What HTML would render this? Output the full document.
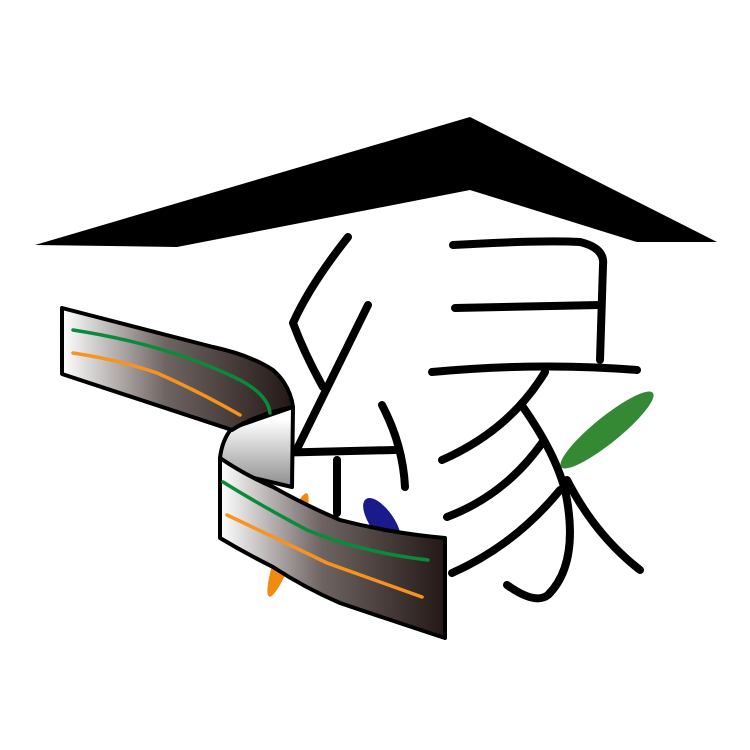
<!DOCTYPE html>
<html><head><style>html,body{margin:0;padding:0;background:#fff}svg{display:block}</style></head>
<body>
<svg width="750" height="750" viewBox="0 0 750 750" xmlns="http://www.w3.org/2000/svg">
<defs>
<linearGradient id="g1" x1="62" y1="0" x2="293" y2="0" gradientUnits="userSpaceOnUse">
<stop offset="0" stop-color="#fff"/><stop offset="0.45" stop-color="#6e6462"/><stop offset="1" stop-color="#231815"/></linearGradient>
<linearGradient id="g2" x1="220" y1="0" x2="445" y2="0" gradientUnits="userSpaceOnUse">
<stop offset="0" stop-color="#fff"/><stop offset="0.45" stop-color="#6e6462"/><stop offset="1" stop-color="#231815"/></linearGradient>
<linearGradient id="g3" x1="0" y1="420" x2="0" y2="490" gradientUnits="userSpaceOnUse">
<stop offset="0" stop-color="#fff"/><stop offset="1" stop-color="#888"/></linearGradient>
</defs>
<path d="M35,245 L470,117 L717,242 L637,242 L470,190 L177,247 Z" fill="#000"/>
<g fill="none" stroke="#000" stroke-width="8" stroke-linecap="round" stroke-linejoin="round">
<path d="M348,237 Q310,285 293,323 Q305,355 323,387"/>
<path d="M368,305 L298,447"/>
<path d="M268,453 L395,450"/>
<path d="M382,405 Q403,445 405,487"/>
<path d="M337,460 L337,513"/>
<path d="M453,245 Q540,240 580,242 Q605,248 603,265 L600,360"/>
<path d="M455,308 L600,305"/>
<path d="M432,372 Q540,362 637,370"/>
<path d="M545,372 Q510,430 442,460"/>
<path d="M523,407 Q560,460 567,500 Q578,565 548,595 Q535,605 507,585"/>
<path d="M542,443 Q505,495 447,517"/>
<path d="M560,490 Q515,545 452,573"/>
<path d="M567,480 Q595,535 640,570"/>
</g>
<ellipse cx="607" cy="430" rx="59" ry="13" transform="rotate(-39 607 430)" fill="#368934"/>
<ellipse cx="288" cy="545" rx="9" ry="55" transform="rotate(20 288 545)" fill="#f28a10"/>
<ellipse cx="382" cy="522" rx="12" ry="28" transform="rotate(-35 382 522)" fill="#1a1a8a"/>
<g stroke="#000" stroke-width="4" stroke-linejoin="round">
<path d="M232,428 Q222,440 220,458 L220,470 L292,487 L293,407 Z" fill="url(#g3)"/>
<path d="M62,308 L62,374 L232,430 Q255,415 293,407 Q290,385 273,370 Q250,355 213,347 Z" fill="url(#g1)"/>
<path d="M220,458 Q245,475 273,487 Q305,505 340,520 Q390,533 445,538 L445,638 Q390,620 340,603 Q305,588 273,567 Q245,553 220,538 Z" fill="url(#g2)"/>
</g>
<g fill="none" stroke-width="3.5" stroke-linecap="round">
<path d="M73,330 Q170,345 240,380 Q268,395 270,413" stroke="#0a8a3c"/>
<path d="M73,353 Q120,360 157,373 Q200,392 240,415" stroke="#f7931e"/>
<path d="M223,482 Q260,505 307,530 Q360,552 428,560" stroke="#0a8a3c"/>
<path d="M227,515 Q280,540 327,563 Q375,580 422,597" stroke="#f7931e"/>
</g>
</svg>
</body></html>
